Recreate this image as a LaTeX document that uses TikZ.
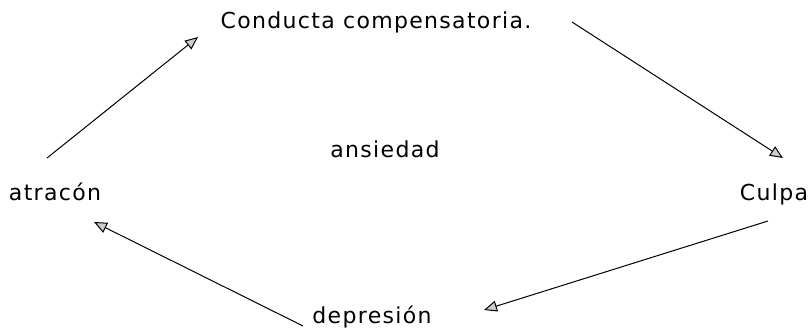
\documentclass[tikz,border=0pt]{standalone}
\usepackage{fontspec}
\setmainfont{DejaVu Sans}[LetterSpace=6]
\usetikzlibrary{arrows.meta}
\begin{document}
\begin{tikzpicture}[x=1pt,y=-1pt,
  lbl/.style={font=\fontsize{22}{26}\selectfont, inner sep=0pt, anchor=base},
  conn/.style={line width=1pt, -{Triangle[open, fill=gray!40, length=13pt, width=11pt]}}]
\useasboundingbox (0,0) rectangle (811,329);
\node[lbl] (cc) at (376,29) {Conducta compensatoria.};
\node[lbl] (an) at (385,157) {ansiedad};
\node[lbl] (at) at (55,200) {atracón};
\node[lbl] (cu) at (774,200) {Culpa};
\node[lbl] (de) at (372,323) {depresión};
\coordinate (a1) at (47,158);
\coordinate (a1e) at (198,37);
\coordinate (a2) at (572,22);
\coordinate (a2e) at (783,158);
\coordinate (a3) at (768,221);
\coordinate (a3e) at (484,310);
\coordinate (a4) at (303,326);
\coordinate (a4e) at (94,222);
\draw[conn] (a1) -- (a1e);
\draw[conn] (a2) -- (a2e);
\draw[conn] (a3) -- (a3e);
\draw[conn] (a4) -- (a4e);
\end{tikzpicture}
\end{document}
